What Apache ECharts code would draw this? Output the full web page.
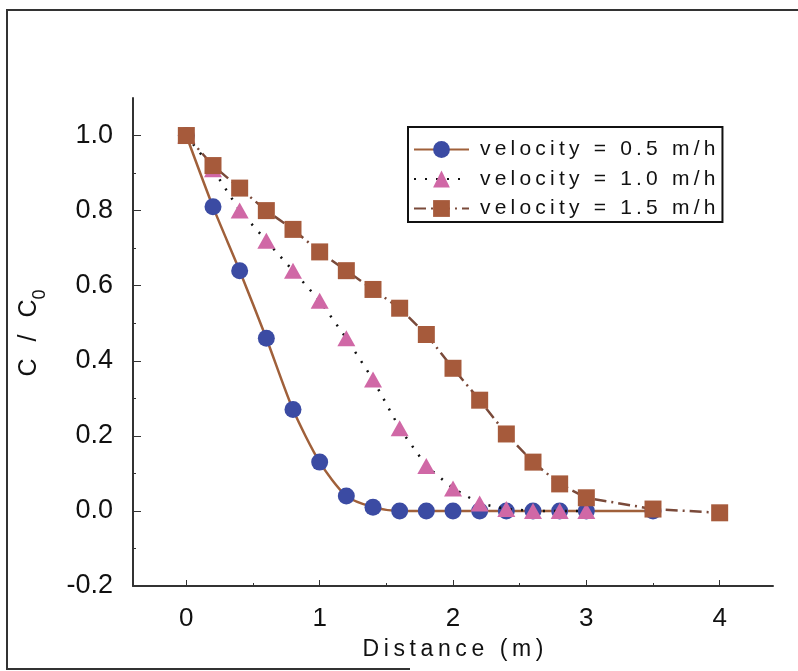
<!DOCTYPE html>
<html>
<head>
<meta charset="utf-8">
<script src="https://cdn.jsdelivr.net/npm/echarts@6/dist/echarts.min.js"></script>
<style>
  html, body { margin: 0; padding: 0; background: #fff; }
  #chart { width: 798px; height: 671px; }
</style>
</head>
<body>
<div id="chart"></div>
<script>
// Distance along the column (m)
const distance = [0, 0.2, 0.4, 0.6, 0.8, 1.0, 1.2, 1.4, 1.6, 1.8, 2.0, 2.2, 2.4, 2.6, 2.8, 3.0, 3.5, 4.0];

// Relative concentration C/C0 for each flow velocity
const vel05 = [1.0, 0.81, 0.64, 0.46, 0.27, 0.13, 0.04, 0.01, 0, 0, 0, 0, 0, 0, 0, 0, 0];
const vel10 = [1.0, 0.91, 0.80, 0.72, 0.64, 0.56, 0.46, 0.35, 0.22, 0.12, 0.06, 0.02, 0.005, 0, 0, 0];
const vel15 = [1.0, 0.92, 0.86, 0.80, 0.75, 0.69, 0.64, 0.59, 0.54, 0.47, 0.38, 0.295, 0.205, 0.13, 0.072, 0.035, 0.005, -0.005];

const seriesNames = ['velocity = 0.5 m/h', 'velocity = 1.0 m/h', 'velocity = 1.5 m/h'];

// Axis ticks and labels
const xLabels = [0, 1, 2, 3, 4];
const xMinorTicks = [0.5, 1.5, 2.5, 3.5];
const yLabels = [-0.2, 0, 0.2, 0.4, 0.6, 0.8, 1.0];
const yMinorTicks = [-0.1, 0.1, 0.3, 0.5, 0.7, 0.9];

const FONT = '"Liberation Sans", Arial, Helvetica, sans-serif';
const THIN = '\u2009';
const spaced = s => s.split('').join(THIN);

const pairs = vals => vals.map((v, i) => [distance[i], v]);

const chart = echarts.init(document.getElementById('chart'), null, { renderer: 'canvas' });

const baseX = { type: 'value', min: -0.4, max: 4.4, splitLine: { show: false } };
const baseY = { type: 'value', min: -0.2, max: 1.1, splitLine: { show: false } };

chart.setOption({
  animation: false,
  backgroundColor: '#ffffff',
  grid: { left: 133, right: 25, top: 98, bottom: 85 },
  xAxis: [
    Object.assign({}, baseX, {
      position: 'bottom',
      name: spaced('Distance (m)'),
      nameLocation: 'middle',
      nameGap: 52,
      nameTextStyle: { fontFamily: FONT, fontSize: 23, color: '#111' },
      axisLine: { show: true, onZero: false, lineStyle: { color: '#333', width: 2 } },
      axisTick: { show: true, inside: true, length: 6, customValues: xLabels, lineStyle: { color: '#333', width: 1 } },
      axisLabel: { show: true, customValues: xLabels, margin: 20, fontFamily: FONT, fontSize: 26, color: '#111',
        formatter: v => String(Math.round(v)) }
    }),
    Object.assign({}, baseX, {
      position: 'bottom',
      axisLine: { show: false, onZero: false },
      axisTick: { show: true, inside: true, length: 3, customValues: xMinorTicks, lineStyle: { color: '#333', width: 1 } },
      axisLabel: { show: false }
    })
  ],
  yAxis: [
    Object.assign({}, baseY, {
      position: 'left',
      axisLine: { show: true, onZero: false, lineStyle: { color: '#333', width: 2 } },
      axisTick: { show: true, inside: true, length: 8, customValues: yLabels, lineStyle: { color: '#333', width: 1 } },
      axisLabel: { show: true, customValues: yLabels, margin: 20, fontFamily: FONT, fontSize: 27, color: '#111',
        formatter: v => v.toFixed(1) }
    }),
    Object.assign({}, baseY, {
      position: 'left',
      axisLine: { show: false, onZero: false },
      axisTick: { show: true, inside: true, length: 3, customValues: yMinorTicks, lineStyle: { color: '#333', width: 1 } },
      axisLabel: { show: false }
    })
  ],
  legend: {
    orient: 'vertical',
    left: 408,
    top: 127,
    padding: [12, 7, 3, 5],
    itemWidth: 55,
    itemHeight: 21,
    itemGap: 8.5,
    borderColor: '#111',
    borderWidth: 2,
    backgroundColor: '#fff',
    textStyle: { fontFamily: FONT, fontSize: 21, color: '#111', padding: [0, 0, 0, 6] },
    formatter: name => spaced(name),
    data: seriesNames
  },
  series: [
    {
      name: seriesNames[0],
      type: 'line',
      data: pairs(vel05),
      smooth: 0.25,
      symbol: 'circle',
      symbolSize: 17,
      itemStyle: { color: '#3b4ba3' },
      lineStyle: { color: '#a0603a', width: 2.5, type: 'solid' },
      z: 2
    },
    {
      name: seriesNames[1],
      type: 'line',
      data: pairs(vel10),
      symbol: 'triangle',
      symbolSize: [18, 16],
      itemStyle: { color: '#d068a6' },
      lineStyle: { color: '#111', width: 2.5, type: [2, 9] },
      z: 3
    },
    {
      name: seriesNames[2],
      type: 'line',
      data: pairs(vel15),
      symbol: 'rect',
      symbolSize: 17,
      itemStyle: { color: '#a65a3b' },
      lineStyle: { color: '#7a4a3a', width: 2.5, type: [12, 5, 2, 5] },
      z: 4
    }
  ],
  graphic: [
    {
      type: 'polyline',
      shape: { points: [[410, 669], [7, 669], [7, 10], [798, 10]] },
      style: { stroke: '#333', lineWidth: 2, fill: null },
      silent: true
    },
    {
      type: 'text',
      x: 29,
      y: 333,
      rotation: Math.PI / 2,
      style: {
        text: spaced('C / C') + '{s|0}',
        fontFamily: FONT,
        fontSize: 25,
        fill: '#111',
        align: 'center',
        verticalAlign: 'middle',
        rich: {
          s: { fontFamily: FONT, fontSize: 18, fill: '#111', verticalAlign: 'bottom', lineHeight: 18, padding: [0, 0, -8, 0] }
        }
      },
      silent: true
    }
  ]
});
</script>
</body>
</html>
